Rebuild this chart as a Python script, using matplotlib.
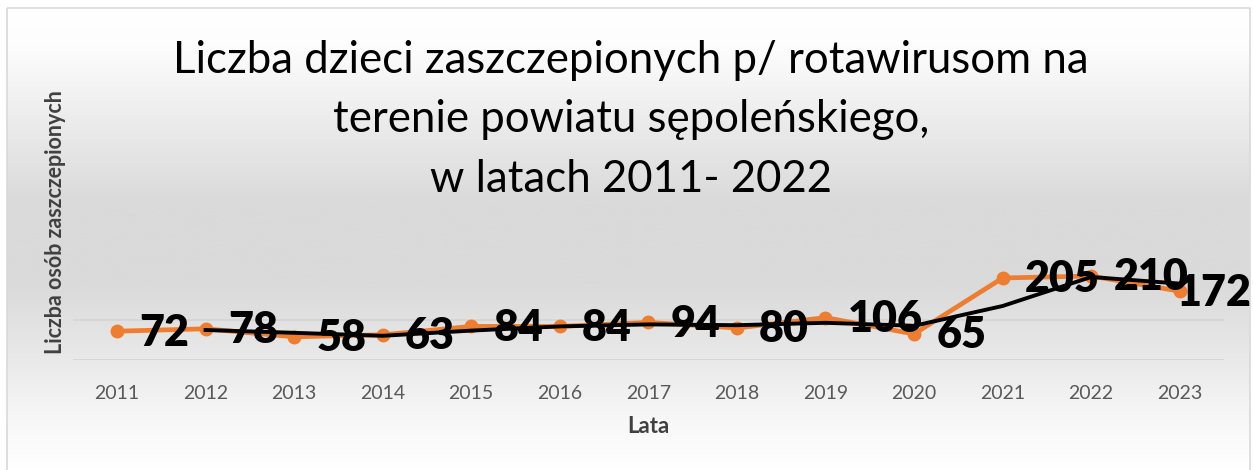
import matplotlib.pyplot as plt
import numpy as np
from matplotlib.colors import LinearSegmentedColormap
from matplotlib.patches import Rectangle

plt.rcParams['font.family'] = ['Lato', 'DejaVu Sans']

years = ['2011', '2012', '2013', '2014', '2015', '2016', '2017',
         '2018', '2019', '2020', '2021', '2022', '2023']
vaccinated = [72, 78, 58, 63, 84, 84, 94, 80, 106, 65, 205, 210, 172]
# trend line (2-period moving average as drawn in the source), read from 2012 on
trend = [75, 68, 60.5, 73.5, 84, 89, 87, 93, 85.5, 135, 207.5, 191]

title = ("Liczba dzieci zaszczepionych p/ rotawirusom na\n"
         "terenie powiatu sępoleńskiego,\n"
         "w latach 2011- 2022")

W, H = 1253, 470
fig = plt.figure(figsize=(W / 100, H / 100), dpi=100)

# background gradient + border
bg = fig.add_axes([0, 0, 1, 1], zorder=-5)
bg.set_xlim(0, W)
bg.set_ylim(H, 0)
bg.axis('off')
cmap = LinearSegmentedColormap.from_list('bg', [
    (0.0, '#ffffff'), (0.08, '#fdfdfd'), (0.25, '#ebebeb'),
    (0.42, '#dadada'), (0.6, '#dadada'), (0.77, '#eaeaea'),
    (0.9, '#f8f8f8'), (1.0, '#ffffff')])
grad = np.linspace(0, 1, 300).reshape(-1, 1)
bg.imshow(grad, cmap=cmap, aspect='auto', extent=[7, 1250, H, 8], zorder=0)
bg.add_patch(Rectangle((7, 8), 1243, 470, fill=False, ec='#d9d9d9', lw=1.2, zorder=1))

left, right, top, bottom = 72.7, 1224, 80, 360
ax = fig.add_axes([left / W, 1 - bottom / H, (right - left) / W, (bottom - top) / H])
ax.patch.set_alpha(0)
x = np.arange(len(years))
ax.set_xlim(-0.5, len(years) - 0.5)
ax.set_ylim(0, 700)
# only the lowest gridlines show against the gradient
for g in [0, 100]:
    ax.axhline(g, color='#d4d4d4', lw=1.2, zorder=1)
for s in ax.spines.values():
    s.set_visible(False)
ax.set_yticks([])
ax.set_xticks(x)
ax.set_xticklabels(years, fontsize=14, color='#595959')
ax.tick_params(axis='x', length=0, pad=18)

ax.plot(x, vaccinated, color='#ED7D31', lw=3.4, marker='o', markersize=9,
        solid_capstyle='round', zorder=3)
ax.plot(x[1:], trend, color='black', lw=2.8, zorder=4)

for i, v in enumerate(vaccinated):
    dx = 16 if i < len(years) - 1 else -2
    ax.annotate(str(v), (x[i], v), xytext=(dx, -1), textcoords='offset points',
                ha='left', va='center', fontsize=31, fontweight='heavy',
                color='black', zorder=5)

ax.set_xlabel('Lata', fontsize=16, fontweight='bold', color='#404040', labelpad=10)
fig.text(55 / W, 1 - 222 / H, 'Liczba osób zaszczepionych', rotation=90,
         ha='center', va='center', fontsize=15.5, fontweight='bold', color='#404040')

fig.text(631 / W, 1 - 120 / H, title, ha='center', va='center', fontsize=31.5,
         color='black', linespacing=1.55)

fig.savefig('out.png', dpi=100)
